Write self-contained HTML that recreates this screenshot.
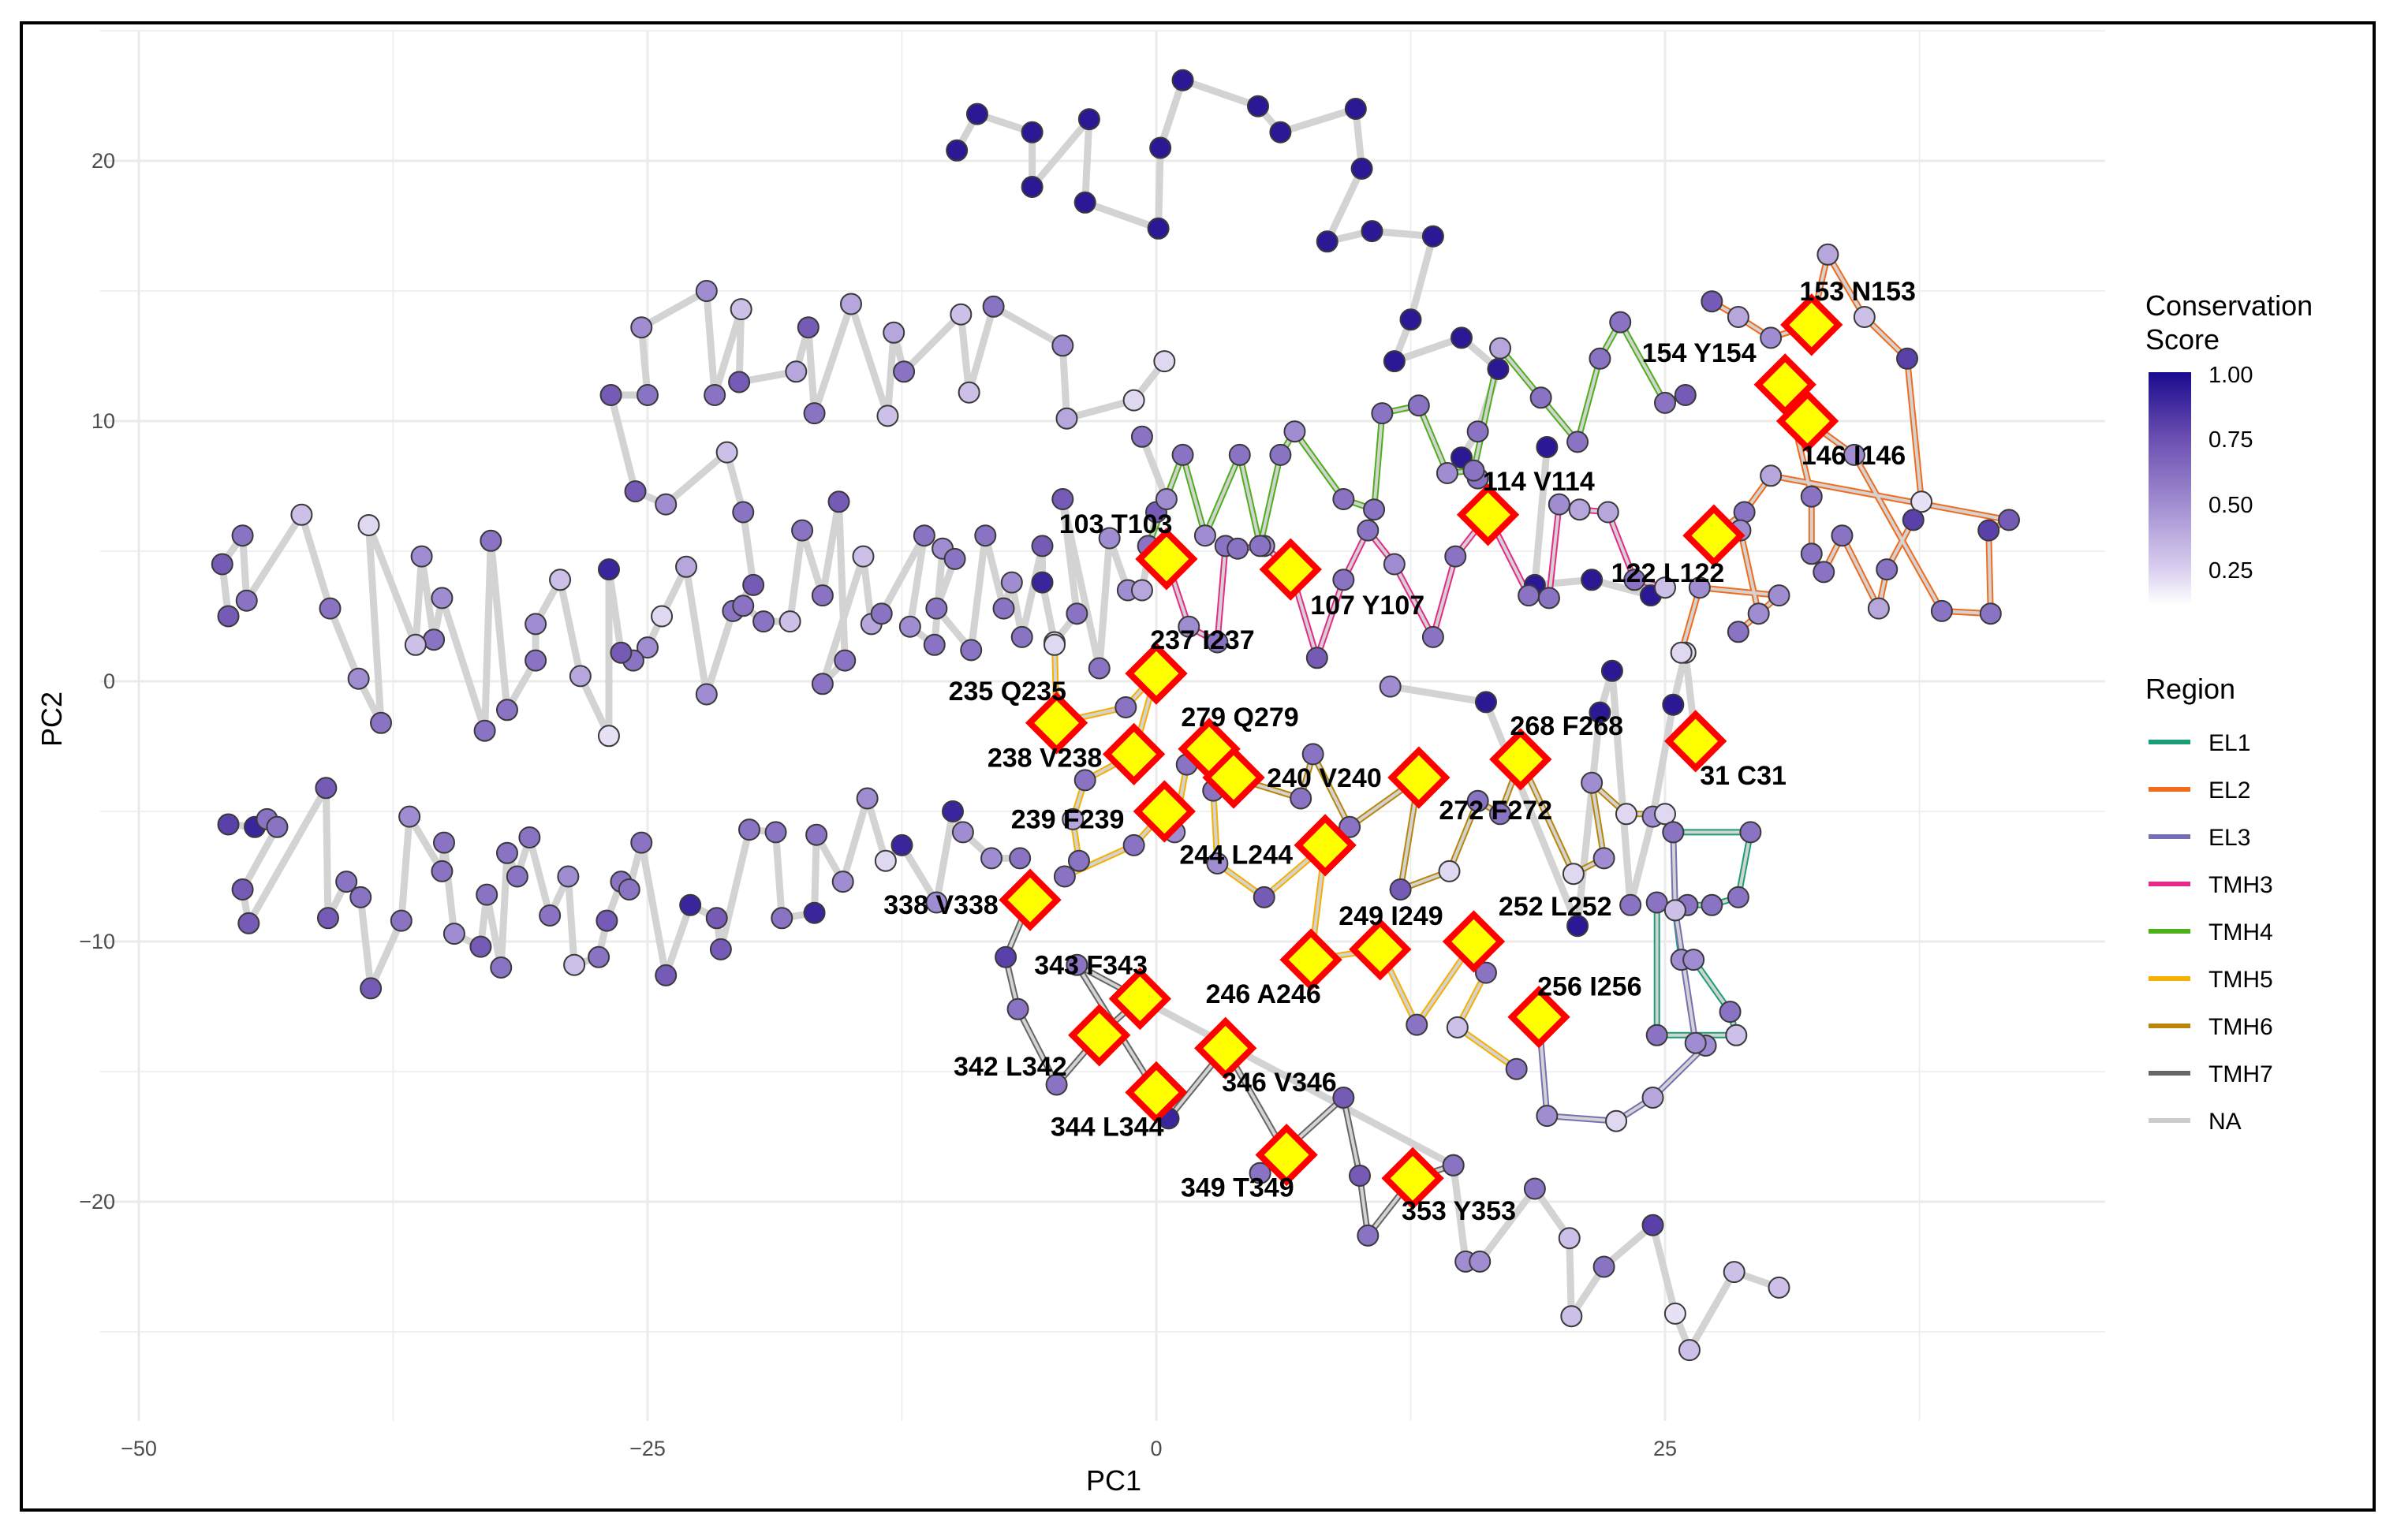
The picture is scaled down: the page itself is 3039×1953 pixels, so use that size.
<!DOCTYPE html>
<html><head><meta charset="utf-8"><style>
html,body{margin:0;padding:0;background:#fff;}
svg{display:block;font-family:"Liberation Sans",Arial,sans-serif;}
</style></head><body>
<svg id="chart" width="3039" height="1953" viewBox="0 0 3039 1953" xmlns="http://www.w3.org/2000/svg">
<rect x="0" y="0" width="3039" height="1953" fill="#fff"/>
<rect x="27" y="29" width="2983" height="1886" fill="none" stroke="#000" stroke-width="4"/>
<g id="grid"></g>
<g id="ticks"></g>
<g id="lines"></g>
<g id="pts"></g>
<g id="marks"></g>
<g id="labels"></g>
<text x="1412" y="1890" font-size="36" text-anchor="middle" fill="#000">PC1</text>
<text x="78" y="912" font-size="36" text-anchor="middle" fill="#000" transform="rotate(-90 78 912)">PC2</text>
<g>
<text x="2720" y="400" font-size="36" fill="#000">Conservation</text>
<text x="2720" y="443" font-size="36" fill="#000">Score</text>
<defs><linearGradient id="cg" x1="0" y1="0" x2="0" y2="1">
<stop offset="0" stop-color="#1a0a8e"/><stop offset="0.28" stop-color="#6a4eb0"/><stop offset="0.56" stop-color="#a08cd0"/><stop offset="0.84" stop-color="#d8cdee"/><stop offset="1" stop-color="#ffffff"/></linearGradient></defs>
<rect x="2724" y="472" width="54" height="295" fill="url(#cg)"/>
<text x="2800" y="485" font-size="29" fill="#000">1.00</text>
<text x="2800" y="567" font-size="29" fill="#000">0.75</text>
<text x="2800" y="650" font-size="29" fill="#000">0.50</text>
<text x="2800" y="733" font-size="29" fill="#000">0.25</text>
</g>
<g id="legend">
<text x="2720" y="886" font-size="36" fill="#000">Region</text>
</g>
</svg>
<script>
// ---- data (PC1, PC2, conservation score) ----
const xTicks = [-50, -25, 0, 25];
const xTickLabels = ["\u221250", "\u221225", "0", "25"];
const yTicks = [-20, -10, 0, 10, 20];
const yTickLabels = ["\u221220", "\u221210", "0", "10", "20"];
const regionNames = ["EL1","EL2","EL3","TMH3","TMH4","TMH5","TMH6","TMH7","NA"];
const regionColors = ["#1b9e77","#f26b1d","#7570b3","#e7298a","#4daf1a","#f5b000","#b8860b","#666666","#cccccc"];

const traceTop = [[-9.8,20.4,0.95],[-8.8,21.8,0.95],[-6.1,21.1,0.95],[-6.1,19.0,0.95],[-3.3,21.6,0.95],[-3.5,18.4,0.95],[0.1,17.4,0.95],[0.2,20.5,0.95],[1.3,23.1,0.95],[5.0,22.1,0.95],[6.1,21.1,0.95],[9.8,22.0,0.95],[10.1,19.7,0.95],[8.4,16.9,0.95],[10.6,17.3,0.95],[13.6,17.1,0.95],[12.5,13.9,0.95],[11.7,12.3,0.95],[15.0,13.2,0.95],[16.8,12.0,0.95],[15.8,9.6,0.6],[15.0,8.6,0.95],[15.8,7.8,0.6]];
const traceUpperLeft = [[0.4,12.3,0.2],[-1.1,10.8,0.2],[-4.4,10.1,0.4],[-4.6,12.9,0.5],[-8.0,14.4,0.6],[-9.2,11.1,0.3],[-9.6,14.1,0.3],[-12.4,11.9,0.6],[-12.9,13.4,0.4],[-13.2,10.2,0.3],[-15.0,14.5,0.4],[-16.8,10.3,0.6],[-17.1,13.6,0.7],[-17.7,11.9,0.4],[-20.5,11.5,0.7],[-20.4,14.3,0.3],[-21.7,11.0,0.6],[-22.1,15.0,0.5],[-25.3,13.6,0.5],[-25.0,11.0,0.6],[-26.8,11.0,0.7],[-25.6,7.3,0.7],[-24.1,6.8,0.5],[-21.1,8.8,0.3],[-20.3,6.5,0.6],[-19.8,3.7,0.7],[-20.8,2.7,0.6],[-22.1,-0.5,0.5],[-23.1,4.4,0.4],[-24.3,2.5,0.2],[-25.0,1.3,0.5],[-25.7,0.8,0.6],[-26.3,1.1,0.7],[-26.9,4.3,0.9],[-26.9,-2.1,0.15],[-28.3,0.2,0.4],[-29.3,3.9,0.3],[-30.5,2.2,0.5],[-30.5,0.8,0.6],[-31.9,-1.1,0.6],[-32.7,5.4,0.6],[-33.0,-1.9,0.6],[-35.1,3.2,0.5],[-35.5,1.6,0.6],[-36.1,4.8,0.5],[-36.4,1.4,0.3],[-38.7,6.0,0.2],[-38.1,-1.6,0.6],[-39.2,0.1,0.5],[-40.6,2.8,0.6],[-42.0,6.4,0.3],[-44.7,3.1,0.6],[-44.9,5.6,0.6],[-45.9,4.5,0.7],[-45.6,2.5,0.7]];
const traceMiddle = [[-20.3,2.9,0.6],[-19.3,2.3,0.6],[-18.0,2.3,0.3],[-17.4,5.8,0.6],[-16.4,3.3,0.6],[-15.6,6.9,0.7],[-15.3,0.8,0.6],[-16.4,-0.1,0.6],[-14.4,4.8,0.3],[-14.0,2.2,0.4],[-13.5,2.6,0.6],[-11.4,5.6,0.6],[-12.1,2.1,0.5],[-10.9,1.4,0.6],[-10.5,5.1,0.5],[-9.9,4.7,0.6],[-10.8,2.8,0.6],[-9.1,1.2,0.6],[-8.4,5.6,0.6],[-7.5,2.8,0.6],[-7.1,3.8,0.5],[-6.6,1.7,0.6],[-5.6,5.2,0.7],[-5.6,3.8,0.9],[-5.0,1.5,0.2],[-3.9,2.6,0.6],[-4.6,7.0,0.7],[-2.8,0.5,0.6],[-2.3,5.5,0.5],[-1.4,3.5,0.5],[-0.7,3.5,0.4],[0.0,6.5,0.7],[0.5,7.0,0.5],[-0.7,9.4,0.6]];
const traceLowerLeft = [[-45.6,-5.5,0.8],[-44.3,-5.6,0.9],[-43.7,-5.3,0.6],[-43.2,-5.6,0.6],[-44.9,-8.0,0.7],[-44.6,-9.3,0.7],[-40.8,-4.1,0.7],[-40.7,-9.1,0.7],[-39.8,-7.7,0.6],[-39.1,-8.3,0.6],[-38.6,-11.8,0.7],[-37.1,-9.2,0.6],[-36.7,-5.2,0.5],[-35.1,-7.3,0.6],[-35.0,-6.2,0.6],[-34.5,-9.7,0.5],[-33.2,-10.2,0.7],[-32.9,-8.2,0.6],[-32.2,-11.0,0.6],[-31.9,-6.6,0.6],[-31.4,-7.5,0.6],[-30.8,-6.0,0.6],[-29.8,-9.0,0.6],[-28.9,-7.5,0.5],[-28.6,-10.9,0.3],[-27.4,-10.6,0.6],[-27.0,-9.2,0.7],[-26.3,-7.7,0.6],[-25.9,-8.0,0.6],[-25.3,-6.2,0.6],[-24.1,-11.3,0.7],[-22.9,-8.6,0.9],[-21.6,-9.1,0.7],[-21.4,-10.3,0.7],[-20.0,-5.7,0.6],[-18.7,-5.8,0.6],[-18.4,-9.1,0.6],[-16.8,-8.9,0.9],[-16.7,-5.9,0.6],[-15.4,-7.7,0.5],[-14.2,-4.5,0.5],[-13.3,-6.9,0.2],[-12.5,-6.3,0.9],[-10.8,-8.5,0.5],[-10.0,-5.0,0.9],[-9.5,-5.8,0.5],[-8.1,-6.8,0.5],[-6.7,-6.8,0.6]];
const traceTMH3 = [[0.5,4.7,0.6],[1.6,2.1,0.5],[3.0,1.5,0.6],[3.4,5.2,0.6],[4.0,5.1,0.6],[5.3,5.2,0.5],[6.6,4.3,0.6],[7.9,0.9,0.7],[9.2,3.9,0.6],[10.4,5.8,0.6],[11.7,4.5,0.5],[13.6,1.7,0.6],[14.7,4.8,0.6],[16.3,6.4,0.6],[18.3,3.3,0.6],[19.3,3.2,0.6],[19.8,6.8,0.5],[20.8,6.6,0.4],[22.2,6.5,0.4],[23.5,3.9,0.6],[25.0,3.6,0.3]];
const traceTMH4 = [[-0.4,5.2,0.6],[1.3,8.7,0.6],[2.4,5.6,0.5],[4.1,8.7,0.6],[5.1,5.2,0.6],[6.1,8.7,0.6],[6.8,9.6,0.5],[9.2,7.0,0.6],[10.7,6.6,0.6],[11.1,10.3,0.6],[12.9,10.6,0.6],[14.3,8.0,0.5],[15.6,8.1,0.6],[16.9,12.8,0.4],[18.9,10.9,0.6],[20.7,9.2,0.6],[21.8,12.4,0.6],[22.8,13.8,0.6],[25.0,10.7,0.6],[26.0,11.0,0.7]];
const traceEL2 = [[27.3,14.6,0.7],[28.6,14.0,0.4],[30.2,13.2,0.5],[32.2,13.7,0.5],[33.0,16.4,0.4],[34.8,14.0,0.3],[36.9,12.4,0.8],[37.6,6.9,0.15],[37.2,6.2,0.8],[35.9,4.3,0.6],[35.5,2.8,0.4],[33.7,5.6,0.6],[32.8,4.2,0.6],[32.2,4.9,0.6],[32.2,7.1,0.6],[30.9,11.4,0.5],[32.0,10.0,0.5],[34.3,8.7,0.5],[38.6,2.7,0.6],[41.0,2.6,0.6],[40.9,5.8,0.8],[41.9,6.2,0.7],[30.2,7.9,0.4],[28.9,6.5,0.6],[27.4,5.6,0.6],[28.7,5.8,0.5],[29.6,2.6,0.5],[28.6,1.9,0.6],[30.6,3.3,0.5],[26.7,3.6,0.5],[25.8,1.1,0.2]];
const traceDarkMid = [[19.2,9.0,0.95],[18.6,3.7,0.95],[21.4,3.9,0.95],[24.3,3.3,0.95]];
const traceTMH5 = [[-5.0,1.4,0.2],[-4.9,-1.6,0.5],[-1.5,-1.0,0.6],[0.0,0.3,0.5],[-1.1,-2.8,0.5],[-3.5,-3.8,0.6],[-4.1,-5.3,0.4],[-3.8,-6.9,0.6],[-4.5,-7.5,0.6],[-1.1,-6.3,0.6],[0.4,-5.0,0.5],[0.9,-5.8,0.5],[1.5,-3.2,0.6],[2.6,-2.6,0.5],[2.8,-4.2,0.6],[3.0,-7.0,0.5],[5.3,-8.3,0.7],[8.3,-6.3,0.6],[7.6,-10.7,0.6],[11.0,-10.3,0.6],[12.8,-13.2,0.6],[15.6,-10.0,0.6],[16.2,-11.2,0.6],[14.8,-13.3,0.3],[17.7,-14.9,0.6]];
const traceTMH6 = [[3.8,-3.7,0.6],[7.1,-4.5,0.6],[7.7,-2.8,0.6],[9.5,-5.6,0.6],[12.9,-3.7,0.6],[12.0,-8.0,0.7],[14.4,-7.3,0.2],[15.8,-4.6,0.6],[16.9,-5.1,0.6],[17.9,-3.0,0.6],[20.5,-7.4,0.2],[22.0,-6.8,0.5],[21.4,-3.9,0.5],[23.1,-5.1,0.2],[25.0,-5.1,0.2]];
const traceNAright = [[11.5,-0.2,0.5],[16.2,-0.8,0.95],[20.7,-9.4,0.95],[21.8,-1.2,0.95],[22.4,0.4,0.95],[23.3,-8.6,0.6],[24.4,-5.2,0.5],[25.4,-0.9,0.95],[26.0,1.1,0.2],[26.5,-2.3,0.5]];
const traceEL1 = [[25.4,-5.8,0.6],[29.2,-5.8,0.6],[28.6,-8.3,0.6],[27.3,-8.6,0.6],[26.1,-8.6,0.6],[25.5,-8.8,0.2],[25.8,-10.7,0.5],[26.4,-10.7,0.5],[28.2,-12.7,0.6],[28.5,-13.6,0.3],[24.6,-13.6,0.6],[24.6,-8.5,0.6]];
const traceEL3 = [[18.8,-12.9,0.5],[19.2,-16.7,0.5],[22.6,-16.9,0.2],[24.4,-16.0,0.4],[27.0,-14.0,0.5],[26.5,-13.9,0.5],[25.5,-8.8,0.3],[25.4,-5.8,0.6]];
const traceTMH7 = [[-6.2,-8.4,0.6],[-7.4,-10.6,0.8],[-6.8,-12.6,0.6],[-4.9,-15.5,0.6],[-2.8,-13.6,0.6],[-0.8,-12.2,0.6],[-3.9,-10.9,0.6],[0.0,-15.8,0.6],[0.6,-16.8,0.9],[3.4,-14.1,0.6],[6.4,-18.2,0.6],[5.1,-18.9,0.6],[9.2,-16.0,0.7],[10.0,-19.0,0.7],[10.4,-21.3,0.6],[12.6,-19.1,0.6],[14.6,-18.6,0.6]];
const traceBottom = [[-0.8,-12.2,0.6],[14.6,-18.6,0.6],[15.2,-22.3,0.5],[15.9,-22.3,0.5],[18.6,-19.5,0.6],[20.3,-21.4,0.3],[20.4,-24.4,0.3],[22.0,-22.5,0.6],[24.4,-20.9,0.8],[25.5,-24.3,0.15],[26.2,-25.7,0.3],[28.4,-22.7,0.3],[30.6,-23.3,0.3]];

const traces = [traceTop, traceUpperLeft, traceMiddle, traceLowerLeft, traceDarkMid, traceNAright, traceBottom, traceTMH3, traceTMH4, traceEL2, traceTMH5, traceTMH6, traceEL1, traceEL3, traceTMH7];
const traceRegion = ["NA","NA","NA","NA","NA","NA","NA","TMH3","TMH4","EL2","TMH5","TMH6","EL1","EL3","TMH7"];

const hlNames = ["103 T103","107 Y107","114 V114","122 L122","146 I146","153 N153","154 Y154","235 Q235","237 I237","238 V238","239 F239","279 Q279","240 V240","244 L244","272 F272","268 F268","31 C31","338 V338","249 I249","246 A246","252 L252","256 I256","343 F343","342 L342","344 L344","346 V346","349 T349","353 Y353"];
const hlX = [0.5,6.6,16.3,27.4,32.0,32.2,30.9,-4.9,0.0,-1.1,0.4,2.6,3.8,8.3,12.9,17.9,26.5,-6.2,11.0,7.6,15.6,18.8,-0.8,-2.8,0.0,3.4,6.4,12.6];
const hlY = [4.7,4.3,6.4,5.6,10.0,13.7,11.4,-1.6,0.3,-2.8,-5.0,-2.6,-3.7,-6.3,-3.7,-3.0,-2.3,-8.4,-10.3,-10.7,-10.0,-12.9,-12.2,-13.6,-15.8,-14.1,-18.2,-19.1];
// label offsets (layout only, px at half scale)
const hlDX = [-33,50,33,-30,30,30,-56,-32,30,-58,-63,20,59,-58,50,30,31,-58,7,-31,53,33,-32,-58,-32,35,-32,30];
const hlDY = [-23,23,-22,24,22,-22,-21,-21,-22,2,5,-21,0,6,21,-22,22,3,-22,22,-23,-20,-22,20,22,22,21,21];

// ---- scales ----
const X0 = 1466, XU = 25.8, Y0 = 864, YU = 33.0;
const PL = 127, PR = 2669, PT = 39, PB = 1802;
function sx(v){ return X0 + v*XU; }
function sy(v){ return Y0 - v*YU; }
function scoreColor(s){
  const stops=[[0,[255,255,255]],[0.25,[216,205,238]],[0.5,[160,140,208]],[0.75,[106,78,176]],[1,[26,10,142]]];
  s=Math.max(0,Math.min(1,s));
  for(let i=1;i<stops.length;i++){ if(s<=stops[i][0]){ const a=stops[i-1],b=stops[i]; const t=(s-a[0])/(b[0]-a[0]);
    const c=a[1].map((v,k)=>Math.round(v+(b[1][k]-v)*t)); return `rgb(${c[0]},${c[1]},${c[2]})`; } }
  return "rgb(26,10,142)";
}
const NS="http://www.w3.org/2000/svg";
function mk(tag, parent, attrs){ const e=document.createElementNS(NS,tag); for(const k in attrs) e.setAttribute(k,attrs[k]); parent.appendChild(e); return e; }

// grid
const grid=document.getElementById('grid');
for(let v=-50; v<=50; v+=12.5){ const x=sx(v); if(x<PL||x>PR) continue;
  const major = (v%25===0);
  const l=mk('line',grid,{x1:x,x2:x,y1:PT,y2:PB,stroke:'#ebebeb','stroke-width':major?3:1.5});
  
   }
for(let v=-25; v<=25; v+=5){ const y=sy(v); if(y<PT||y>PB) continue;
  const major = (v%10===0);
  const l=mk('line',grid,{x1:PL,x2:PR,y1:y,y2:y,stroke:'#ebebeb','stroke-width':major?3:1.5});
  
   }
const ticks=document.getElementById('ticks');
xTicks.forEach((v,i)=>{ const t=mk('text',ticks,{x:sx(v),y:1846,'font-size':27,'text-anchor':'middle',fill:'#4d4d4d'}); t.textContent=xTickLabels[i];
  
   });
yTicks.forEach((v,i)=>{ const t=mk('text',ticks,{x:146,y:sy(v)+9,'font-size':27,'text-anchor':'end',fill:'#4d4d4d'}); t.textContent=yTickLabels[i];
  
   });

// lines
const lines=document.getElementById('lines');
traces.forEach((tr,ti)=>{
  const reg=traceRegion[ti]; const col=regionColors[regionNames.indexOf(reg)];
  const d=tr.map((p,i)=>(i?'L':'M')+sx(p[0]).toFixed(1)+' '+sy(p[1]).toFixed(1)).join(' ');
  if(reg==='NA'){
    const p=mk('path',lines,{d:d,fill:'none',stroke:'#d3d3d3','stroke-width':9,'stroke-linejoin':'round','stroke-linecap':'round'});
    
    
  } else {
    const p=mk('path',lines,{d:d,fill:'none',stroke:col,'stroke-width':8,'stroke-linejoin':'round'});
    
    
    const q=mk('path',lines,{d:d,fill:'none',stroke:'#d3d3d3','stroke-width':4,'stroke-linejoin':'round'});
    
    
  }
});
// points
const pts=document.getElementById('pts');
traces.forEach(tr=>tr.forEach(p=>{
  const c=mk('circle',pts,{cx:sx(p[0]),cy:sy(p[1]),r:13,fill:scoreColor(p[2]),stroke:'#3a3a3a','stroke-width':2});
  
  
}));
// highlight diamonds + labels
const marks=document.getElementById('marks'), labs=document.getElementById('labels');
hlNames.forEach((n,i)=>{
  const x=sx(hlX[i]), y=sy(hlY[i]), h=34;
  const d=mk('polygon',marks,{points:`${x},${y-h} ${x+h},${y} ${x},${y+h} ${x-h},${y}`,fill:'#ffff00',stroke:'#ff0000','stroke-width':8,'stroke-linejoin':'miter'});
  
  
  const t=mk('text',labs,{x:x+hlDX[i]*1.948,y:y+hlDY[i]*1.948+12,'font-size':34,'font-weight':'bold','text-anchor':'middle',fill:'#000'});
  t.textContent=n;
  
  
});
// region legend
const leg=document.getElementById('legend');
regionNames.forEach((n,i)=>{
  const y=941+i*60;
  const l=mk('line',leg,{x1:2724,x2:2777,y1:y,y2:y,stroke:regionColors[i],'stroke-width':6});
  
  
  const t=mk('text',leg,{x:2800,y:y+11,'font-size':30,fill:'#000'}); t.textContent=n;
  
  
});
</script>
</body></html>
